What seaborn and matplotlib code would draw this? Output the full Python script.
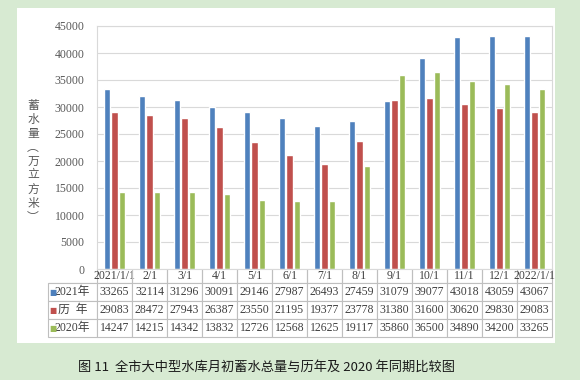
import matplotlib
matplotlib.use('Agg')
import matplotlib.pyplot as plt
from matplotlib.patches import Rectangle
import pandas as pd
import seaborn as sns

# data read off the chart (values hidden by the watermark are estimated from bar heights)
dates = ['2021/1/1', '2/1', '3/1', '4/1', '5/1', '6/1', '7/1', '8/1',
         '9/1', '10/1', '11/1', '12/1', '2022/1/1']
series_names = ['2021年', '历  年', '2020年']
vals_2021 = [33265, 32114, 31296, 30091, 29146, 27987, 26493, 27459,
             31079, 39077, 43018, 43059, 43067]
vals_hist = [29083, 28472, 27943, 26387, 23550, 21195, 19377, 23778,
             31380, 31600, 30620, 29830, 29083]
vals_2020 = [14247, 14215, 14342, 13832, 12726, 12568, 12625, 19117,
             35860, 36500, 34890, 34200, 33265]
colors = ['#4f81bd', '#c0504d', '#9bbb59']

df = pd.DataFrame({
    'date': dates * 3,
    'series': [s for s in series_names for _ in dates],
    'value': vals_2021 + vals_hist + vals_2020,
})

sns.set_theme(style='white')
plt.rcParams['font.serif'] = ['Liberation Serif', 'DejaVu Serif']
plt.rcParams['font.family'] = ['serif', 'Noto Sans CJK SC']

W, H = 580, 380
fig = plt.figure(figsize=(W / 100, H / 100), dpi=100, facecolor='#d7ead2')
# white card behind the chart
fig.add_artist(Rectangle((17 / W, 1 - 343 / H), 538 / W, 335 / H,
                         transform=fig.transFigure, facecolor='white',
                         edgecolor='none', zorder=0))

ax = fig.add_axes([97 / W, 1 - 269 / H, 455 / W, 243 / H])
sns.barplot(data=df, x='date', y='value', hue='series', order=dates,
            hue_order=series_names, palette=colors, saturation=1,
            width=0.64, gap=0.1, legend=False, ax=ax)

ax.set_xlim(-0.5, len(dates) - 0.5)
ax.set_ylim(0, 45000)
ax.set_yticks(range(0, 45001, 5000))
ax.yaxis.grid(True, color='#d9d9d9', lw=0.8)
ax.set_axisbelow(True)
ax.set_xlabel('')
ax.set_ylabel('')
ax.set_xticklabels([])
ax.tick_params(axis='x', length=0)
ax.tick_params(axis='y', length=0, pad=9, labelsize=8.5, labelcolor='#595959')
for sp in ax.spines.values():
    sp.set_color('#d9d9d9')
    sp.set_linewidth(0.8)

# data table under the plot (Excel style), first column holds the series names
cell_text = [[name] + [str(v) for v in vals]
             for name, vals in zip(series_names, (vals_2021, vals_hist, vals_2020))]
col_w = [49 / 504] + [35 / 504] * len(dates)
tab = ax.table(cellText=cell_text, colLabels=[''] + dates, colWidths=col_w,
               cellLoc='center', colLoc='center',
               bbox=[-49 / 455, -68 / 243, 504 / 455, 68 / 243])
tab.auto_set_font_size(False)
tab.set_fontsize(8.5)
for (r, c), cell in tab.get_celld().items():
    cell.set_edgecolor('#bfbfbf')
    cell.set_linewidth(0.8)
    cell.set_height(14 if r == 0 else 18)
    cell.get_text().set_color('#404040')
    if r == 0:
        cell.visible_edges = 'B' if c == 0 else 'BLR'
    elif c == 0:
        cell._loc = 'left'
        cell.PAD = 8 / 49

# colour keys in front of the series names
row_y = [-23.5 / 243, -42 / 243, -59.5 / 243]
for col, y in zip(colors, row_y):
    ax.text(-48 / 455, y, '■', transform=ax.transAxes, color=col,
            fontsize=5.5, ha='left', va='center', family=['DejaVu Sans'])

# vertical y label
fig.text(33 / W, 1 - 161 / H, '\n'.join('蓄水量︵万立方米︶'), ha='center',
         va='center', fontsize=8.5, linespacing=1.1, color='#595959',
         family=['Noto Sans CJK SC'])

fig.text(266 / W, 1 - 367 / H,
         '图 11  全市大中型水库月初蓄水总量与历年及 2020 年同期比较图',
         ha='center', va='center', fontsize=9.5, color='#1a1a1a',
         family=['Noto Sans CJK SC'])

fig.savefig('out.png', dpi=100, facecolor=fig.get_facecolor())
